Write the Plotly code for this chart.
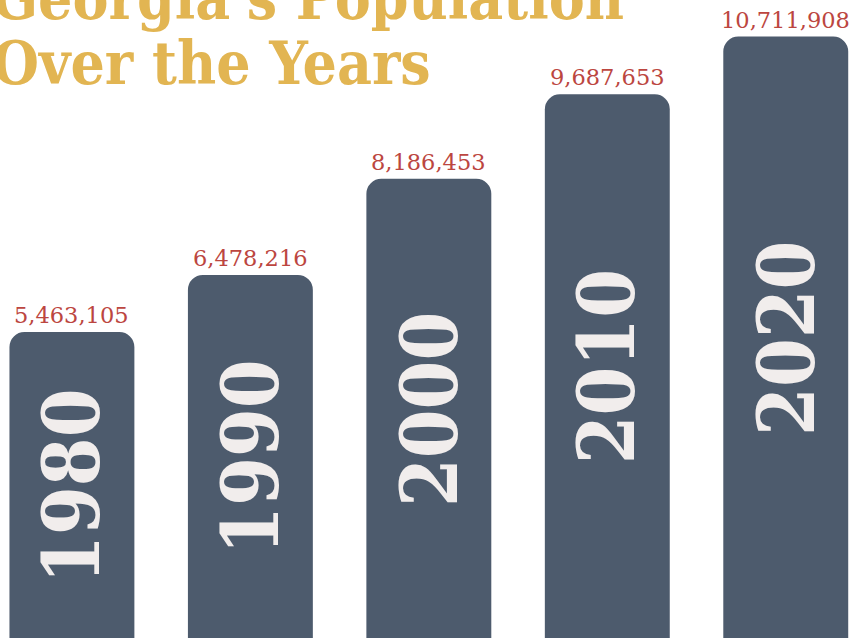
import plotly.graph_objects as go

# Georgia population by census year
years = ["1980", "1990", "2000", "2010", "2020"]
population = [5463105, 6478216, 8186453, 9687653, 10711908]
value_labels = ["5,463,105", "6,478,216", "8,186,453", "9,687,653", "10,711,908"]

BAR = "#4D5B6D"
GOLD = "#E2B552"
RED = "#BC4640"
YEAR_TXT = "#F1EDEC"
SLAB = "DejaVu Serif Condensed, DejaVu Serif, serif"
SERIF = "DejaVu Serif, serif"

fig = go.Figure()
fig.add_trace(go.Bar(
    x=years,
    y=population,
    width=0.70,
    marker=dict(color=BAR, line=dict(width=0)),
    hoverinfo="skip",
))

for i, (yr, val, lab) in enumerate(zip(years, population, value_labels)):
    # population figure above each bar
    fig.add_annotation(
        x=i, y=val, text=lab, showarrow=False,
        yanchor="bottom", yshift=2,
        font=dict(family=SERIF, size=22.5, color=RED),
    )
    # year written vertically in the middle of the bar
    fig.add_annotation(
        x=i, y=val / 2, text=yr, showarrow=False,
        textangle=-90,
        font=dict(family=SLAB, size=78, color=YEAR_TXT, weight="bold"),
    )

# two-line headline, running off the top-left corner
fig.add_annotation(
    xref="paper", yref="paper", x=-0.012, y=1.003,
    xanchor="left", yanchor="middle",
    text="Georgia's Population", showarrow=False,
    font=dict(family=SLAB, size=60, color=GOLD, weight="bold"),
)
fig.add_annotation(
    xref="paper", yref="paper", x=-0.012, y=0.901,
    xanchor="left", yanchor="middle",
    text="Over the Years", showarrow=False,
    font=dict(family=SLAB, size=60, color=GOLD, weight="bold"),
)

fig.update_layout(
    width=850, height=638,
    margin=dict(l=0, r=0, t=0, b=0),
    paper_bgcolor="white", plot_bgcolor="white",
    barcornerradius=15,
    showlegend=False,
    xaxis=dict(visible=False, type="category", range=[-0.403, 4.36]),
    yaxis=dict(visible=False, range=[30000, 11362000]),
)

fig.write_html("out.html")
